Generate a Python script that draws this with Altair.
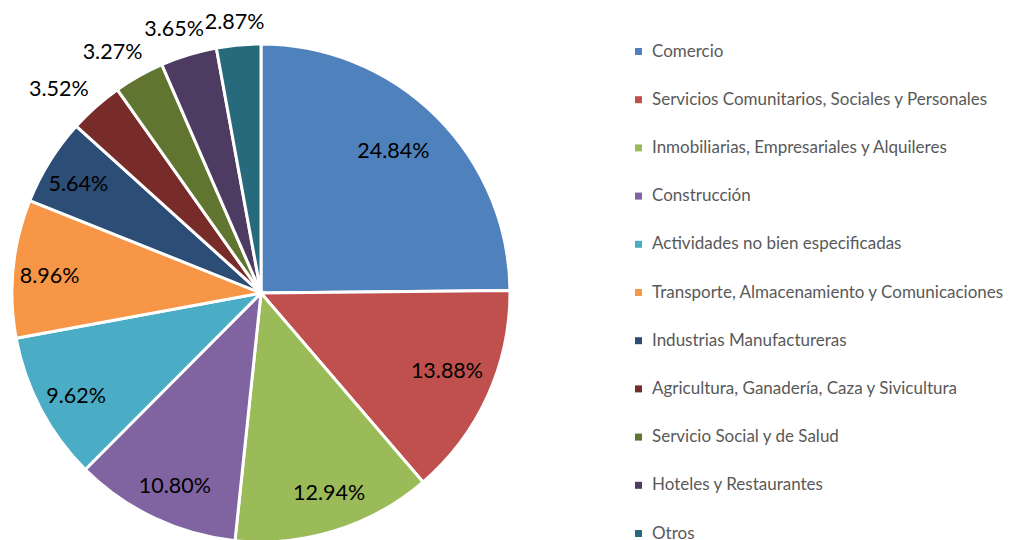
import altair as alt
import pandas as pd
import math

categories = [
    "Comercio",
    "Servicios Comunitarios, Sociales y Personales",
    "Inmobiliarias, Empresariales y  Alquileres",
    "Construcción",
    "Actividades no bien especificadas",
    "Transporte, Almacenamiento y Comunicaciones",
    "Industrias Manufactureras",
    "Agricultura, Ganadería, Caza y Sivicultura",
    "Servicio Social y de Salud",
    "Hoteles y Restaurantes",
    "Otros",
]
values = [24.84, 13.88, 12.94, 10.80, 9.62, 8.96, 5.64, 3.52, 3.27, 3.65, 2.87]
colors = [
    "#4F81BD", "#C0504D", "#9BBB59", "#8064A2", "#4BACC6", "#F79646",
    "#2C4D75", "#772C2A", "#5F7530", "#4D3B62", "#276A7C",
]

df = pd.DataFrame({"categoria": categories, "valor": values, "idx": list(range(len(values)))})
total = sum(values)

FONT = "Lato"
CX, CY = 253, 285
R = 249

theta_scale = alt.Scale(domain=[0, total], range=[0, 2 * math.pi], nice=False, zero=False)

base = alt.Chart(df).transform_window(
    cum_end="sum(valor)", sort=[alt.SortField("idx")], frame=[None, 0]
).transform_calculate(
    cum_start="datum.cum_end - datum.valor",
    mid="datum.cum_end - datum.valor / 2",
    label="format(datum.valor, '.2f') + '%'",
).transform_calculate(
    # outside labels (small slices) are nudged counter-clockwise like Excel's best fit
    lt=f"datum.valor > 4 ? datum.mid - 0.004 * {total} : datum.mid - 0.08 * ({total} - datum.mid)",
).transform_calculate(
    ang=f"datum.lt / {total} * 2 * PI",
).transform_calculate(
    lr=f"datum.valor > 4 ? (datum.valor > 20 ? 193 : (datum.valor > 13.5 ? 202 : 212)) : {R} + 9.5 + 29.5 * abs(sin(datum.ang)) + 10 * abs(cos(datum.ang))",
)

color = alt.Color(
    "categoria:N",
    scale=alt.Scale(domain=categories, range=colors),
    legend=alt.Legend(
        title=None,
        orient="none",
        legendX=622,
        legendY=35,
        symbolType="square",
        symbolSize=49,
        symbolStrokeWidth=0,
        labelFontSize=17,
        labelFont=FONT,
        labelColor="#595959",
        labelLimit=500,
        labelOffset=5,
        rowPadding=30.2,
    ),
)

arcs = base.mark_arc(outerRadius=R, stroke="white", strokeWidth=3).encode(
    theta=alt.Theta("cum_start:Q", stack=None, scale=theta_scale),
    theta2="cum_end:Q",
    color=color,
    x=alt.value(CX),
    y=alt.value(CY),
)

labels = base.mark_text(
    font=FONT, fontSize=21.5, color="black", align="center", baseline="middle"
).encode(
    theta=alt.Theta("lt:Q", stack=None, scale=theta_scale),
    radius=alt.Radius("lr:Q", scale=None),
    text="label:N",
    x=alt.value(CX),
    y=alt.value(CY),
)

chart = alt.layer(arcs, labels).properties(
    width=998, height=532, autosize="none", padding=0
).configure_view(stroke=None)

chart.save("out.html", embed_options={"renderer": "svg", "actions": False})
